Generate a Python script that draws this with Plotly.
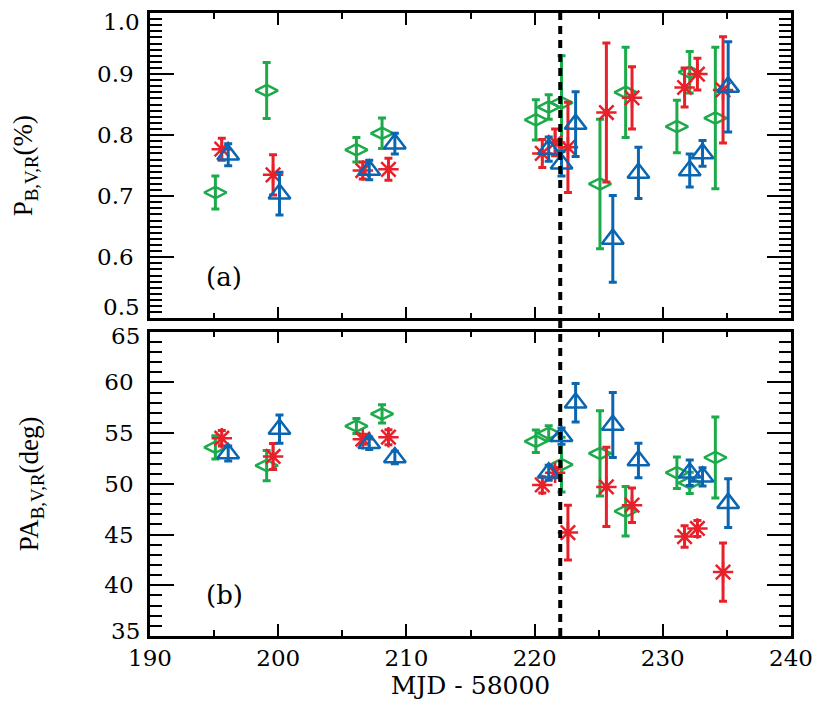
import plotly.graph_objects as go

# ---------------- data ----------------
green_mjd = [195.1, 199.1, 206.1, 208.1, 220.1, 221.1, 222.1, 225.1, 227.1, 231.1, 232.1, 234.1]
red_mjd   = [195.6, 199.6, 206.6, 208.6, 220.6, 221.6, 222.6, 225.6, 227.6, 231.7, 232.7, 234.7]
blue_mjd  = [196.1, 200.1, 207.1, 209.1, 221.1, 222.1, 223.2, 226.1, 228.1, 232.1, 233.1, 235.1]

# Polarization degree P (%)
p_green     = [0.706, 0.873, 0.776, 0.803, 0.825, 0.846, 0.853, 0.720, 0.870, 0.814, 0.903, 0.828]
p_green_err = [0.027, 0.046, 0.020, 0.025, 0.033, 0.020, 0.077, 0.106, 0.074, 0.043, 0.034, 0.116]
p_red       = [0.777, 0.735, 0.742, 0.744, 0.770, 0.788, 0.780, 0.837, 0.861, 0.878, 0.900, 0.874]
p_red_err   = [0.018, 0.033, 0.014, 0.018, 0.023, 0.022, 0.074, 0.114, 0.051, 0.032, 0.026, 0.087]
p_blue      = [0.768, 0.704, 0.743, 0.786, 0.777, 0.753, 0.818, 0.630, 0.738, 0.742, 0.770, 0.879]
p_blue_err  = [0.018, 0.035, 0.016, 0.017, 0.020, 0.020, 0.053, 0.071, 0.042, 0.027, 0.021, 0.074]

# Polarization angle PA (deg)
pa_green     = [53.6, 51.8, 55.7, 56.9, 54.2, 55.0, 51.9, 53.0, 47.3, 51.1, 50.1, 52.6]
pa_green_err = [1.15, 1.5, 0.74, 0.9, 1.1, 0.74, 2.7, 4.2, 2.45, 1.55, 1.05, 4.0]
pa_red       = [54.5, 52.7, 54.4, 54.6, 49.9, 51.1, 45.2, 49.7, 47.9, 44.8, 45.6, 41.3]
pa_red_err   = [0.77, 1.28, 0.5, 0.74, 0.8, 0.5, 2.7, 3.9, 1.7, 1.06, 0.8, 2.87]
pa_blue      = [53.0, 55.4, 54.0, 52.6, 51.1, 54.7, 58.0, 55.8, 52.3, 51.1, 50.7, 48.1]
pa_blue_err  = [0.74, 1.4, 0.62, 0.62, 0.74, 0.8, 1.9, 3.2, 1.7, 1.26, 0.9, 2.4]

event_mjd = 222.0
x_range = [190, 240]
p_range = [0.5, 1.0]
pa_range = [35, 65]
p_inner_ticks = [0.6, 0.7, 0.8, 0.9]
pa_inner_ticks = [40, 45, 50, 55, 60]
# end-of-axis labels are nudged inward (as in the original plot)
p_end_labels = [("1.0", 0.985), ("0.5", 0.518)]
pa_end_labels = [("65", 64.55), ("35", 35.45)]

GREEN = "#1DAA4B"
RED = "#E8202A"
BLUE = "#0B66B2"

series = [
    ("V", green_mjd, p_green, p_green_err, pa_green, pa_green_err, GREEN, "diamond-wide-open", 16),
    ("R", red_mjd, p_red, p_red_err, pa_red, pa_red_err, RED, "asterisk-open", 17),
    ("B", blue_mjd, p_blue, p_blue_err, pa_blue, pa_blue_err, BLUE, "triangle-up-open", 19),
]

fig = go.Figure()
for name, xs, p, pe, pa, pae, col, sym, sz in series:
    common = dict(mode="markers", showlegend=False, name=name,
                  marker=dict(symbol=sym, size=sz, color=col, line=dict(width=2.5, color=col)))
    fig.add_trace(go.Scatter(x=xs, y=p, xaxis="x2", yaxis="y2",
                             error_y=dict(type="data", array=pe, thickness=3, width=4, color=col),
                             **common))
    fig.add_trace(go.Scatter(x=xs, y=pa, xaxis="x", yaxis="y",
                             error_y=dict(type="data", array=pae, thickness=3, width=4, color=col),
                             **common))

SERIF = "DejaVu Serif"
TITLE_FONT = "Liberation Serif"
TICK_FONT = dict(family=SERIF, size=23, color="black")

xcommon = dict(range=x_range, tickmode="linear", tick0=190, dtick=10, ticks="inside", ticklen=12, tickwidth=2,
               tickcolor="black", showline=True, linecolor="black", linewidth=2.5,
               mirror="ticks", showgrid=False, zeroline=False, automargin=False,
               minor=dict(dtick=5, tick0=190, ticks="inside", ticklen=6, tickwidth=2, tickcolor="black"))
ycommon = dict(ticks="inside", ticklen=24, tickwidth=2, tickcolor="black", tickmode="array",
               showline=True, linecolor="black", linewidth=2.5, mirror="ticks",
               showgrid=False, zeroline=False, ticklabelstandoff=9, automargin=False,
               tickfont=TICK_FONT)

annotations = [
    dict(text="(a)", x=194.2, y=0.567, xref="x2", yref="y2", xanchor="left", yanchor="middle",
         showarrow=False, font=dict(family=SERIF, size=26, color="black")),
    dict(text="(b)", x=194.2, y=39.0, xref="x", yref="y", xanchor="left", yanchor="middle",
         showarrow=False, font=dict(family=SERIF, size=26, color="black")),
]
for txt, yv in p_end_labels:
    annotations.append(dict(text=txt, x=0, xref="paper", y=yv, yref="y2", xanchor="right", yanchor="middle",
                            xshift=-9, showarrow=False, borderpad=0, font=TICK_FONT))
for txt, yv in pa_end_labels:
    annotations.append(dict(text=txt, x=0, xref="paper", y=yv, yref="y", xanchor="right", yanchor="middle",
                            xshift=-9, showarrow=False, borderpad=0, font=TICK_FONT))

fig.update_layout(
    width=814, height=692,
    margin=dict(l=142, r=31, t=5, b=64, autoexpand=False),
    paper_bgcolor="white", plot_bgcolor="white",
    xaxis=dict(**xcommon, anchor="y", domain=[0, 1],
               tickfont=TICK_FONT,
               title=dict(text="MJD - 58000", font=dict(family=SERIF, size=25, color="black"), standoff=2)),
    xaxis2=dict(**xcommon, anchor="y2", domain=[0, 1], showticklabels=False, matches="x"),
    yaxis=dict(**ycommon, range=pa_range, tickvals=pa_inner_ticks, domain=[0, 0.4884], anchor="x",
               minor=dict(tickmode="linear", dtick=1, tick0=35, ticks="inside", ticklen=12, tickwidth=2,
                          tickcolor="black"),
               title=dict(text="PA<sub>B,V,R</sub>(deg)", font=dict(family=TITLE_FONT, size=27, color="black"),
                          standoff=58)),
    yaxis2=dict(**ycommon, range=p_range, tickvals=p_inner_ticks, tickformat=".1f", domain=[0.51, 1.0],
                anchor="x2",
                minor=dict(tickmode="linear", dtick=0.01, tick0=0.5, ticks="inside", ticklen=12, tickwidth=2,
                           tickcolor="black"),
                title=dict(text="P<sub>B,V,R</sub>(%)", font=dict(family=TITLE_FONT, size=27, color="black"),
                           standoff=58)),
    shapes=[dict(type="line", xref="x", yref="paper", x0=event_mjd, x1=event_mjd, y0=0, y1=1,
                 line=dict(color="black", width=4, dash="8px,6px"), layer="above")],
    annotations=annotations,
)

fig.write_html("out.html")
